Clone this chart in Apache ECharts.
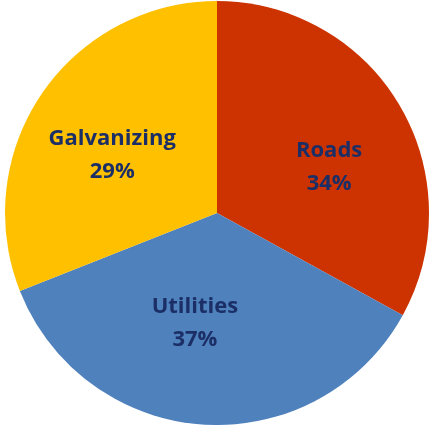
<!DOCTYPE html>
<html>
<head>
<meta charset="utf-8">
<script src="https://cdn.jsdelivr.net/npm/echarts@6/dist/echarts.min.js"></script>
<style>
  html, body { margin: 0; padding: 0; background: #fff; }
  #chart { width: 432px; height: 425px; }
</style>
</head>
<body>
<div id="chart"></div>
<script>
// slice names, slice sizes as drawn, and the printed percentage labels
var categories = ['Roads', 'Utilities', 'Galvanizing'];
var sliceValues = [33, 36, 31];
var pctLabels = ['34%', '37%', '29%'];
var colors = ['#cc3300', '#4f81bd', '#ffc000'];

// small nudges so labels sit where the original's "best fit" put them
var labelNudge = [[3, 7], [-4, -9], [-11, 19]];

var pieData = categories.map(function (name, i) {
    return { name: name, value: sliceValues[i], itemStyle: { color: colors[i] } };
});

var chart = echarts.init(document.getElementById('chart'), null, { renderer: 'canvas' });

var option = {
    backgroundColor: '#fff',
    animation: false,
    series: [{
        // the coloured slices
        type: 'pie',
        center: [217, 213],
        radius: [0, 212],
        startAngle: 90,
        clockwise: true,
        silent: true,
        label: { show: false },
        labelLine: { show: false },
        itemStyle: { borderWidth: 0 },
        data: pieData
    }, {
        // transparent ring only used to place the labels
        type: 'pie',
        center: [217, 213],
        radius: [24, 212],
        startAngle: 85,
        clockwise: true,
        silent: true,
        itemStyle: { color: 'rgba(0,0,0,0)' },
        label: {
            show: true,
            position: 'inside',
            formatter: function (p) {
                return p.name + '\n' + pctLabels[p.dataIndex];
            },
            color: '#1b2f66',
            fontFamily: 'Open Sans',
            fontWeight: 'bold',
            fontSize: 22,
            lineHeight: 33
        },
        labelLayout: function (p) {
            var n = labelNudge[p.dataIndex];
            return { dx: n[0], dy: n[1] };
        },
        labelLine: { show: false },
        data: pieData.map(function (d) { return { name: d.name, value: d.value }; })
    }]
};

chart.setOption(option);
</script>
</body>
</html>
